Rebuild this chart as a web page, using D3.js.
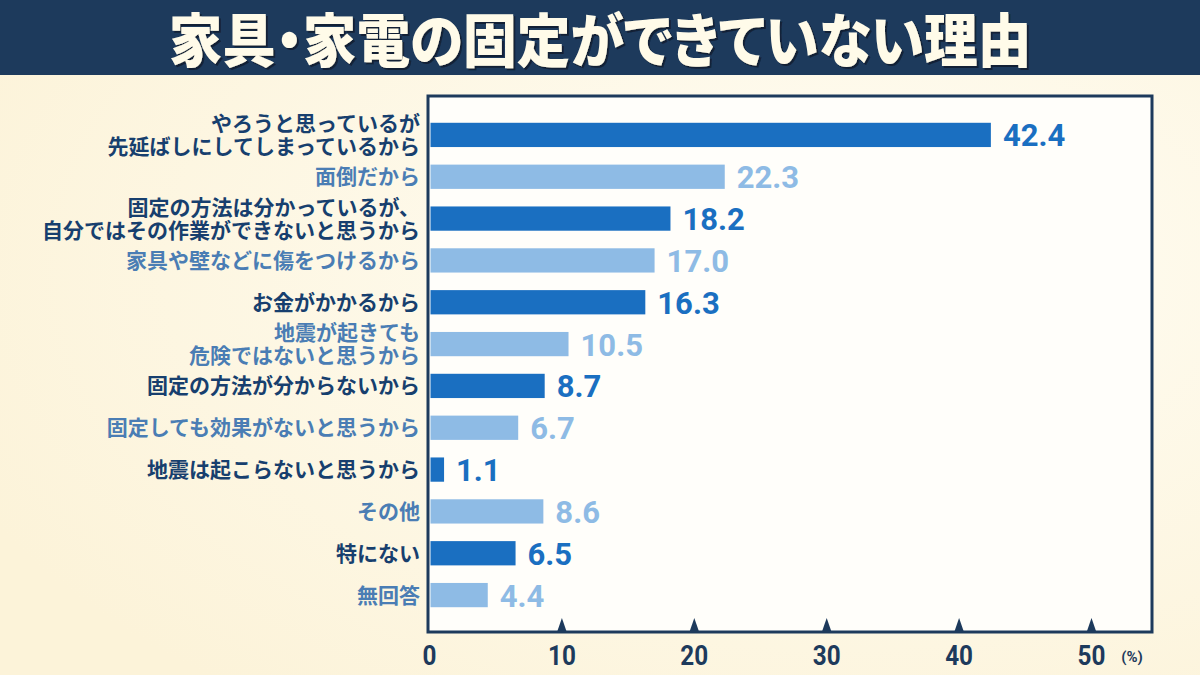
<!DOCTYPE html>
<html><head><meta charset="utf-8">
<script src="https://cdn.jsdelivr.net/npm/d3@7"></script>
<style>
html,body{margin:0;padding:0;background:#fdf6e1;}
svg{display:block;}
</style></head>
<body>
<svg id="chart" width="1200" height="675"></svg>
<script>
const title = "家具・家電の固定ができていない理由";
const categories = [
  ["やろうと思っているが","先延ばしにしてしまっているから"],
  ["面倒だから"],
  ["固定の方法は分かっているが、","自分ではその作業ができないと思うから"],
  ["家具や壁などに傷をつけるから"],
  ["お金がかかるから"],
  ["地震が起きても","危険ではないと思うから"],
  ["固定の方法が分からないから"],
  ["固定しても効果がないと思うから"],
  ["地震は起こらないと思うから"],
  ["その他"],
  ["特にない"],
  ["無回答"]
];
const values = [42.4, 22.3, 18.2, 17.0, 16.3, 10.5, 8.7, 6.7, 1.1, 8.6, 6.5, 4.4];
const ticks = [0, 10, 20, 30, 40, 50];
const unitLabel = "(%)";

const svg = d3.select("#chart");
const W = 1200, H = 675;

const defs = svg.append("defs");
const bg = defs.append("radialGradient").attr("id","bg").attr("cx","70%").attr("cy","40%").attr("r","80%");
bg.append("stop").attr("offset","0%").attr("stop-color","#fffdf4");
bg.append("stop").attr("offset","100%").attr("stop-color","#fcf3d9");
svg.append("rect").attr("width",W).attr("height",H).attr("fill","url(#bg)");

// title band
svg.append("rect").attr("x",0).attr("y",0).attr("width",W).attr("height",75).attr("fill","#1d3a5c");
const flt = defs.append("filter").attr("id","ts").attr("x","-5%").attr("y","-20%").attr("width","110%").attr("height","140%");
flt.append("feDropShadow").attr("dx",2).attr("dy",2).attr("stdDeviation",0.5).attr("flood-color","#0c1a2c").attr("flood-opacity",0.8);
svg.append("text")
  .attr("transform","translate(600,62) scale(0.925,1)")
  .attr("text-anchor","middle")
  .attr("font-family","'Noto Sans CJK JP'")
  .attr("font-weight",900)
  .attr("font-size",58)
  .style("font-feature-settings","'palt'")
  .attr("fill","#fffbe9")
  .attr("filter","url(#ts)")
  .text(title);

// plot frame
const frame = {x0:428, x1:1152, y0:96, y1:632};
svg.append("rect").attr("x",frame.x0).attr("y",frame.y0)
  .attr("width",frame.x1-frame.x0).attr("height",frame.y1-frame.y0)
  .attr("fill","#fffefa").attr("stroke","#1d3a5c").attr("stroke-width",3);

const x = d3.scaleLinear().domain([0,50]).range([429.5,1091.5]);
const y = d3.scaleBand().domain(d3.range(categories.length)).range([114,616]).paddingInner(0.42).paddingOuter(0.21);

const darkBar = "#1a6fc1", lightBar = "#8ebbe5";
const darkLbl = "#173f6e", lightLbl = "#4a7db4";

const g = svg.append("g");
g.selectAll("rect.bar").data(values).join("rect")
  .attr("class","bar")
  .attr("x",x(0)+1)
  .attr("y",(d,i)=>y(i))
  .attr("width",d=>x(d)-x(0)-1)
  .attr("height",y.bandwidth())
  .attr("fill",(d,i)=> i%2===0 ? darkBar : lightBar);

g.selectAll("text.val").data(values).join("text")
  .attr("class","val")
  .attr("transform",(d,i)=>`translate(${x(d)+12},${y(i)+y.bandwidth()/2+11.5}) scale(0.97,1)`)
  .attr("font-family","Roboto")
  .attr("font-weight",700)
  .attr("font-size",32)
  .attr("fill",(d,i)=> i%2===0 ? darkBar : lightBar)
  .text(d=>d.toFixed(1));

// category labels
const lbl = g.selectAll("text.cat").data(categories).join("text")
  .attr("class","cat")
  .attr("text-anchor","end")
  .attr("font-family","'Noto Sans CJK JP'")
  .attr("font-weight",700)
  .attr("font-size",21)
  .attr("fill",(d,i)=> i%2===0 ? darkLbl : lightLbl);
lbl.each(function(d,i){
  const cy = y(i)+y.bandwidth()/2;
  const n = d.length, lh = 23;
  d3.select(this).selectAll("tspan").data(d).join("tspan")
    .attr("x",420)
    .attr("y",(s,k)=> cy + (k-(n-1)/2)*lh + 7.5)
    .text(s=>s);
});

// axis tick triangles
svg.selectAll("path.tick").data(ticks.slice(1)).join("path")
  .attr("class","tick")
  .attr("transform",d=>`translate(${x(d)},${frame.y1-1})`)
  .attr("d","M-4.5,0L0,-13L4.5,0Z")
  .attr("fill","#1d3a5c");

svg.selectAll("text.tl").data(ticks).join("text")
  .attr("class","tl")
  .attr("transform",d=>`translate(${x(d)},${665}) scale(0.9,1)`)
  .attr("text-anchor","middle")
  .attr("font-family","Roboto")
  .attr("font-weight",700)
  .attr("font-size",27)
  .attr("fill","#1d3a5c")
  .text(d=>d);

svg.append("text")
  .attr("x",1132).attr("y",662)
  .attr("text-anchor","middle")
  .attr("font-family","Roboto")
  .attr("font-weight",700)
  .attr("font-size",15)
  .attr("fill","#1d3a5c")
  .text(unitLabel);
</script>
</body></html>
